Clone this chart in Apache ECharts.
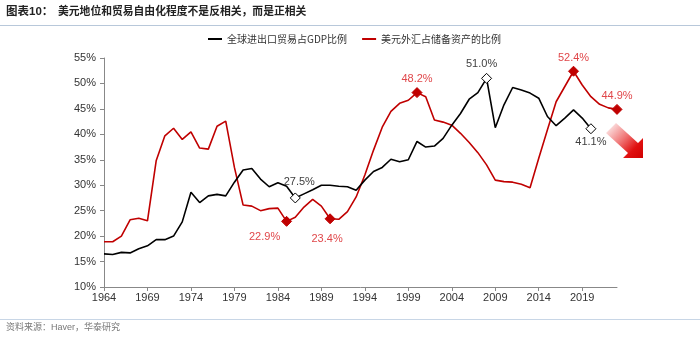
<!DOCTYPE html>
<html><head><meta charset="utf-8">
<script src="https://cdn.jsdelivr.net/npm/echarts@6/dist/echarts.min.js"></script>
<style>html,body{margin:0;padding:0;background:#fff}#c{width:700px;height:338px}</style>
</head><body><div id="c"></div>
<script>
const years = [];
for (let y = 1964; y <= 2023; y++) years.push(String(y));
const tradeName = '全球进出口贸易占GDP比例';
const usdName = '美元外汇占储备资产的比例';
// 1964-2020
const tradeShare = [16.5,16.4,16.8,16.7,17.5,18.1,19.3,19.3,20.0,22.8,
  28.6,26.6,27.9,28.2,27.9,30.6,33.0,33.3,31.2,29.7,
  30.5,29.8,27.5,28.3,29.1,30.0,30.0,29.8,29.7,29.0,
  31.0,32.7,33.5,35.1,34.6,35.0,38.6,37.5,37.7,39.2,
  41.8,44.1,46.9,48.2,51.0,41.3,45.8,49.2,48.7,48.1,
  47.1,43.5,41.7,43.2,44.8,43.2,41.1];
// 1964-2023
const usdShare = [18.9,18.9,20.0,23.2,23.5,23.0,34.8,39.7,41.2,39.0,
  40.5,37.3,37.1,41.6,42.6,33.5,26.1,25.9,25.0,25.4,
  25.5,22.9,23.7,25.7,27.2,25.9,23.4,23.3,24.8,27.7,
  32.0,36.9,41.4,44.5,46.1,46.7,48.2,47.4,42.8,42.4,
  41.8,40.2,38.4,36.4,34.0,31.0,30.7,30.6,30.2,29.5,
  35.3,40.9,46.4,49.4,52.4,49.7,47.4,45.9,45.2,44.9];
const tradeMarks = ['1986','2008','2020'];
const usdMarks = ['1985','1990','2000','2018','2023'];
const yTicks = {min: 10, max: 55, interval: 5};

const labelPos = {
  usd: {'1985': ['bottom', [-22, 0]], '1990': ['bottom', [-3, 4]], '2000': ['top', [0, 2]], '2018': ['top', [0, 3]], '2023': ['top', [0, 3]]},
  trade: {'1986': ['top', [4, 0]], '2008': ['top', [-5, 2]], '2020': ['bottom', [0, -3]]}
};
const fmt = p => Number(p.value).toFixed(1) + '%';
function build(vals, marks, posMap, isRed) {
  return years.map((yr, i) => {
    const v = i < vals.length ? vals[i] : null;
    if (marks.indexOf(yr) < 0) return v;
    const lp = posMap[yr];
    return {
      value: v, symbol: 'diamond', symbolSize: 10,
      itemStyle: isRed ? {color: '#C00000', borderColor: '#C00000', borderWidth: 1}
                       : {color: '#ffffff', borderColor: '#000000', borderWidth: 1},
      label: {show: true, position: lp[0], offset: lp[1], formatter: fmt,
        color: isRed ? '#E0474A' : '#404040', fontSize: 11,
        fontFamily: 'Liberation Sans, Arial, sans-serif'}
    };
  });
}
const FF = 'Liberation Sans, Arial, Noto Sans CJK SC, sans-serif';
const chart = echarts.init(document.getElementById('c'), null, {renderer: 'canvas'});
chart.setOption({
  animation: false,
  backgroundColor: '#fff',
  grid: {left: 104, right: 83, top: 58, bottom: 51, containLabel: false},
  legend: {
    left: 203, top: 29, icon: 'rect', itemWidth: 14, itemHeight: 2, itemGap: 15,
    textStyle: {fontSize: 10, color: '#333', fontFamily: 'Noto Sans CJK SC, sans-serif'},
    data: [{name: tradeName, itemStyle: {color: '#000'}}, {name: usdName, itemStyle: {color: '#C00000'}}]
  },
  xAxis: {
    type: 'category', data: years, boundaryGap: false,
    axisLine: {lineStyle: {color: '#888', width: 1}},
    axisTick: {interval: 4, length: 4, lineStyle: {color: '#888'}},
    axisLabel: {interval: 4, color: '#333', fontSize: 11, fontFamily: FF, margin: 5}
  },
  yAxis: {
    type: 'value', min: yTicks.min, max: yTicks.max, interval: yTicks.interval,
    axisLine: {show: true, lineStyle: {color: '#888', width: 1}},
    axisTick: {show: true, length: 4, lineStyle: {color: '#888'}},
    splitLine: {show: false},
    axisLabel: {formatter: '{value}%', color: '#333', fontSize: 11, fontFamily: FF, margin: 8}
  },
  series: [
    {name: tradeName, type: 'line', data: build(tradeShare, tradeMarks, labelPos.trade, false),
      symbol: 'none', showAllSymbol: true, connectNulls: false,
      lineStyle: {color: '#000', width: 1.6}, itemStyle: {color: '#000'}, z: 3},
    {name: usdName, type: 'line', data: build(usdShare, usdMarks, labelPos.usd, true),
      symbol: 'none', showAllSymbol: true,
      lineStyle: {color: '#C00000', width: 1.6}, itemStyle: {color: '#C00000'}, z: 2}
  ],
  graphic: [
    {type: 'text', left: 6, top: 6, style: {text: '图表10：', fontSize: 11.5, fontWeight: 'bold', fill: '#222', fontFamily: FF}},
    {type: 'text', left: 58, top: 6, style: {text: '美元地位和贸易自由化程度不是反相关，而是正相关', fontSize: 10.8, fontWeight: 'bold', fill: '#222', fontFamily: 'Noto Sans CJK SC, sans-serif'}},
    {type: 'line', shape: {x1: 0, y1: 25.5, x2: 700, y2: 25.5}, style: {stroke: '#B8C8DA', lineWidth: 1}},
    {type: 'line', shape: {x1: 0, y1: 319.5, x2: 700, y2: 319.5}, style: {stroke: '#C8D6E6', lineWidth: 1}},
    {type: 'text', left: 6, top: 323, style: {text: '资料来源：Haver，华泰研究', fontSize: 9, fill: '#777', fontFamily: FF}},
    {type: 'polygon', shape: {points: [[606,133],[616,123],[638,143],[643,138],[643,158],[623,158],[628,153]]},
      style: {fill: new echarts.graphic.LinearGradient(0, 0, 1, 1, [
        {offset: 0, color: 'rgba(255,255,255,1)'},
        {offset: 0.45, color: 'rgba(240,120,120,1)'},
        {offset: 0.75, color: '#E01010'},
        {offset: 1, color: '#D00000'}])}}
  ]
});
</script></body></html>
